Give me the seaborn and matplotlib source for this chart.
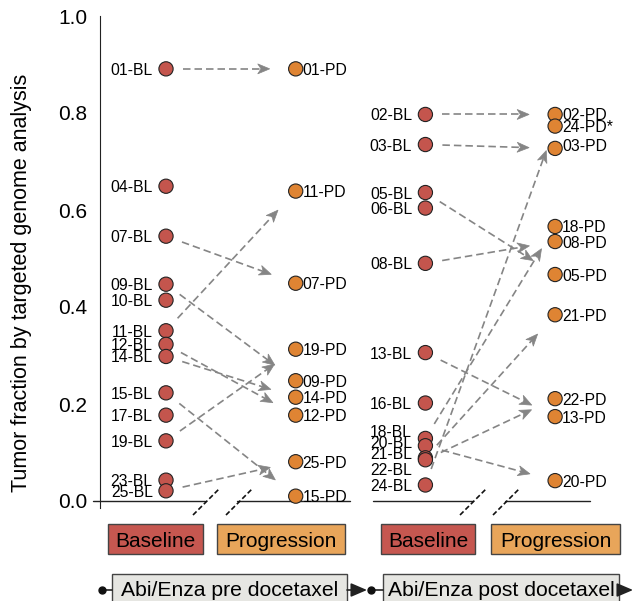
import matplotlib
matplotlib.use("Agg")
import matplotlib.pyplot as plt
import numpy as np
import pandas as pd
import seaborn as sns
from matplotlib.patches import Rectangle, Polygon

# ----------------------------
# data
# ----------------------------
pre_bl_ids = ["01", "04", "07", "09", "10", "11", "12", "14", "15", "17", "19", "23", "25"]
pre_bl_vals = [0.891, 0.649, 0.546, 0.447, 0.414, 0.351, 0.323, 0.298, 0.223, 0.177, 0.124, 0.043, 0.021]
pre_pd_ids = ["01", "11", "07", "19", "09", "14", "12", "25", "15"]
pre_pd_vals = [0.891, 0.639, 0.449, 0.313, 0.248, 0.214, 0.177, 0.081, 0.010]

post_bl_ids = ["02", "03", "05", "06", "08", "13", "16", "18", "20", "21", "22", "24"]
post_bl_vals = [0.797, 0.735, 0.636, 0.604, 0.490, 0.306, 0.202, 0.129, 0.114, 0.089, 0.085, 0.033]
post_pd_ids = ["02", "24", "03", "18", "08", "05", "21", "22", "13", "20"]
post_pd_vals = [0.797, 0.773, 0.727, 0.566, 0.535, 0.467, 0.384, 0.211, 0.174, 0.042]

pd_suffix = {("post", "24"): "*"}

stage_names = ["Baseline", "Progression"]
treatments = ["Abi/Enza pre docetaxel", "Abi/Enza post docetaxel"]
y_label = "Tumor fraction by targeted genome analysis"

# ----------------------------
# long table for seaborn
# ----------------------------
rows = []
for p, (panel, groups) in enumerate([
        ("pre", [("BL", pre_bl_ids, pre_bl_vals), ("PD", pre_pd_ids, pre_pd_vals)]),
        ("post", [("BL", post_bl_ids, post_bl_vals), ("PD", post_pd_ids, post_pd_vals)])]):
    for s, (stage, ids, vals) in enumerate(groups):
        for i, v in zip(ids, vals):
            rows.append({"panel": panel, "stage": stage, "id": i, "value": v, "x": 2 * p + s})
df = pd.DataFrame(rows)

BL_COL = "#C4554D"
PD_COL = "#DF8433"
ARROW_COL = "#858585"

sns.set_style("white")
plt.rcParams["font.family"] = ["Liberation Sans", "DejaVu Sans"]
plt.rcParams["text.color"] = "black"
plt.rcParams["ytick.color"] = "black"
plt.rcParams["xtick.color"] = "black"

fig = plt.figure(figsize=(6.34, 6.01), dpi=100)
ax = fig.add_axes([100 / 634, 100 / 601, 500 / 634, 485 / 601])
ax.set_xlim(-0.5089, -0.5089 + 500 / 129.7)
ax.set_ylim(0, 1)


def X(px):
    return (px - 166) / 129.7


def Y(py):
    return (501 - py) / 485


to_px = ax.transData.transform
to_data = ax.transData.inverted().transform


def dashed_arrow(p_from, p_to, shrink_a=17, shrink_b=26, head_len=12, head_w=10):
    a = to_px(p_from)
    b = to_px(p_to)
    u = (b - a) / np.hypot(*(b - a))
    n = np.array([-u[1], u[0]])
    start = a + u * shrink_a
    tip = b - u * shrink_b
    back = tip - u * head_len
    notch = tip - u * head_len * 0.72
    line = to_data([start, notch])
    ax.plot(line[:, 0], line[:, 1], color=ARROW_COL, lw=1.2, ls=(0, (4.5, 2.4)), zorder=2)
    head = to_data([tip, back + n * head_w / 2, notch, back - n * head_w / 2])
    ax.add_patch(Polygon(head, closed=True, facecolor=ARROW_COL, edgecolor=ARROW_COL,
                         lw=0.5, zorder=2))


# arrows baseline -> progression
for panel in ["pre", "post"]:
    sub = df[df.panel == panel]
    bl = sub[sub.stage == "BL"].set_index("id")
    pdp = sub[sub.stage == "PD"].set_index("id")
    for i in pdp.index:
        if i in bl.index:
            dashed_arrow((bl.loc[i, "x"], bl.loc[i, "value"]), (pdp.loc[i, "x"], pdp.loc[i, "value"]))

sns.scatterplot(data=df, x="x", y="value", hue="stage",
                palette={"BL": BL_COL, "PD": PD_COL}, s=105,
                edgecolor="#222222", linewidth=0.8, legend=False, ax=ax,
                clip_on=False, zorder=3)

# point labels
nudge = {("post", "BL", "18"): 5.4, ("post", "BL", "20"): 3.0, ("post", "BL", "21"): 3.6,
         ("post", "BL", "22"): -6.6, ("post", "PD", "03"): 2.5}
for r in df.itertuples():
    dy = nudge.get((r.panel, r.stage, r.id), 0)
    if r.stage == "BL":
        ax.annotate(f"{r.id}-BL", (r.x, r.value), xytext=(-9.5, dy), textcoords="offset points",
                    ha="right", va="center_baseline", fontsize=11.3)
    else:
        txt = f"{r.id}-PD" + pd_suffix.get((r.panel, r.id), "")
        ax.annotate(txt, (r.x, r.value), xytext=(5, dy), textcoords="offset points",
                    ha="left", va="center_baseline", fontsize=11.3)

# axes
for s in ["top", "right", "bottom"]:
    ax.spines[s].set_visible(False)
ax.spines["left"].set_bounds(-0.014, 1.0)
ax.spines["left"].set_color("#222222")
ax.set_yticks([0, 0.2, 0.4, 0.6, 0.8, 1.0])
ax.set_yticklabels(["0.0", "0.2", "0.4", "0.6", "0.8", "1.0"])
ax.set_xticks([0, 1, 2, 3])
ax.set_xticklabels([])
ax.tick_params(axis="both", length=7, width=1, color="#222222", labelsize=15, pad=2)
ax.set_xlabel("")
ax.set_ylabel("")
fig.text(22 / 634, 1 - 283 / 601, y_label, rotation=90, ha="center", va="center", fontsize=15.5)

# broken x axis
for a, b in [(93, 205), (237, 350), (373, 473), (505, 590)]:
    ax.plot([X(a), X(b)], [0, 0], color="#222222", lw=1, clip_on=False)
for a in [193, 226, 460, 493]:
    ax.plot([X(a), X(a + 26)], [Y(515), Y(489)], color="#111111", lw=1.2,
            ls=(0, (3, 1.6)), clip_on=False)

# stage boxes
for (x0, x1), name in zip([(108, 203), (217, 345), (381, 475), (491, 620)], stage_names * 2):
    col = "#C65750" if name == "Baseline" else "#E8A55A"
    ax.add_patch(Rectangle((X(x0), Y(554)), X(x1) - X(x0), Y(524) - Y(554), facecolor=col,
                           edgecolor="#444444", lw=1, clip_on=False))
    ax.text((X(x0) + X(x1)) / 2, Y(539.5), name, ha="center", va="center_baseline", fontsize=15)

# treatment boxes
for (x0, x1), name in zip([(112, 347), (383, 619)], treatments):
    ax.add_patch(Rectangle((X(x0), Y(610)), X(x1) - X(x0), Y(574) - Y(610), facecolor="#E6E6E2",
                           edgecolor="#444444", lw=1, clip_on=False))
    ax.text((X(x0) + X(x1)) / 2, Y(588), name, ha="center", va="center_baseline", fontsize=15.2)
for d0, b0 in [(102, 112), (371, 383)]:
    ax.plot([X(d0), X(b0)], [Y(590), Y(590)], color="#222222", lw=1.2, clip_on=False)
    ax.plot([X(d0)], [Y(590)], "o", ms=5, color="#111111", clip_on=False)
for a, b in [(347, 367), (619, 633)]:
    ax.annotate("", xy=(X(b), Y(590)), xytext=(X(a), Y(590)), annotation_clip=False,
                arrowprops=dict(arrowstyle="-|>,head_length=0.7,head_width=0.3", color="#222222",
                                lw=1.2, shrinkA=0, shrinkB=0, mutation_scale=14))

fig.savefig("out.png", dpi=100)
